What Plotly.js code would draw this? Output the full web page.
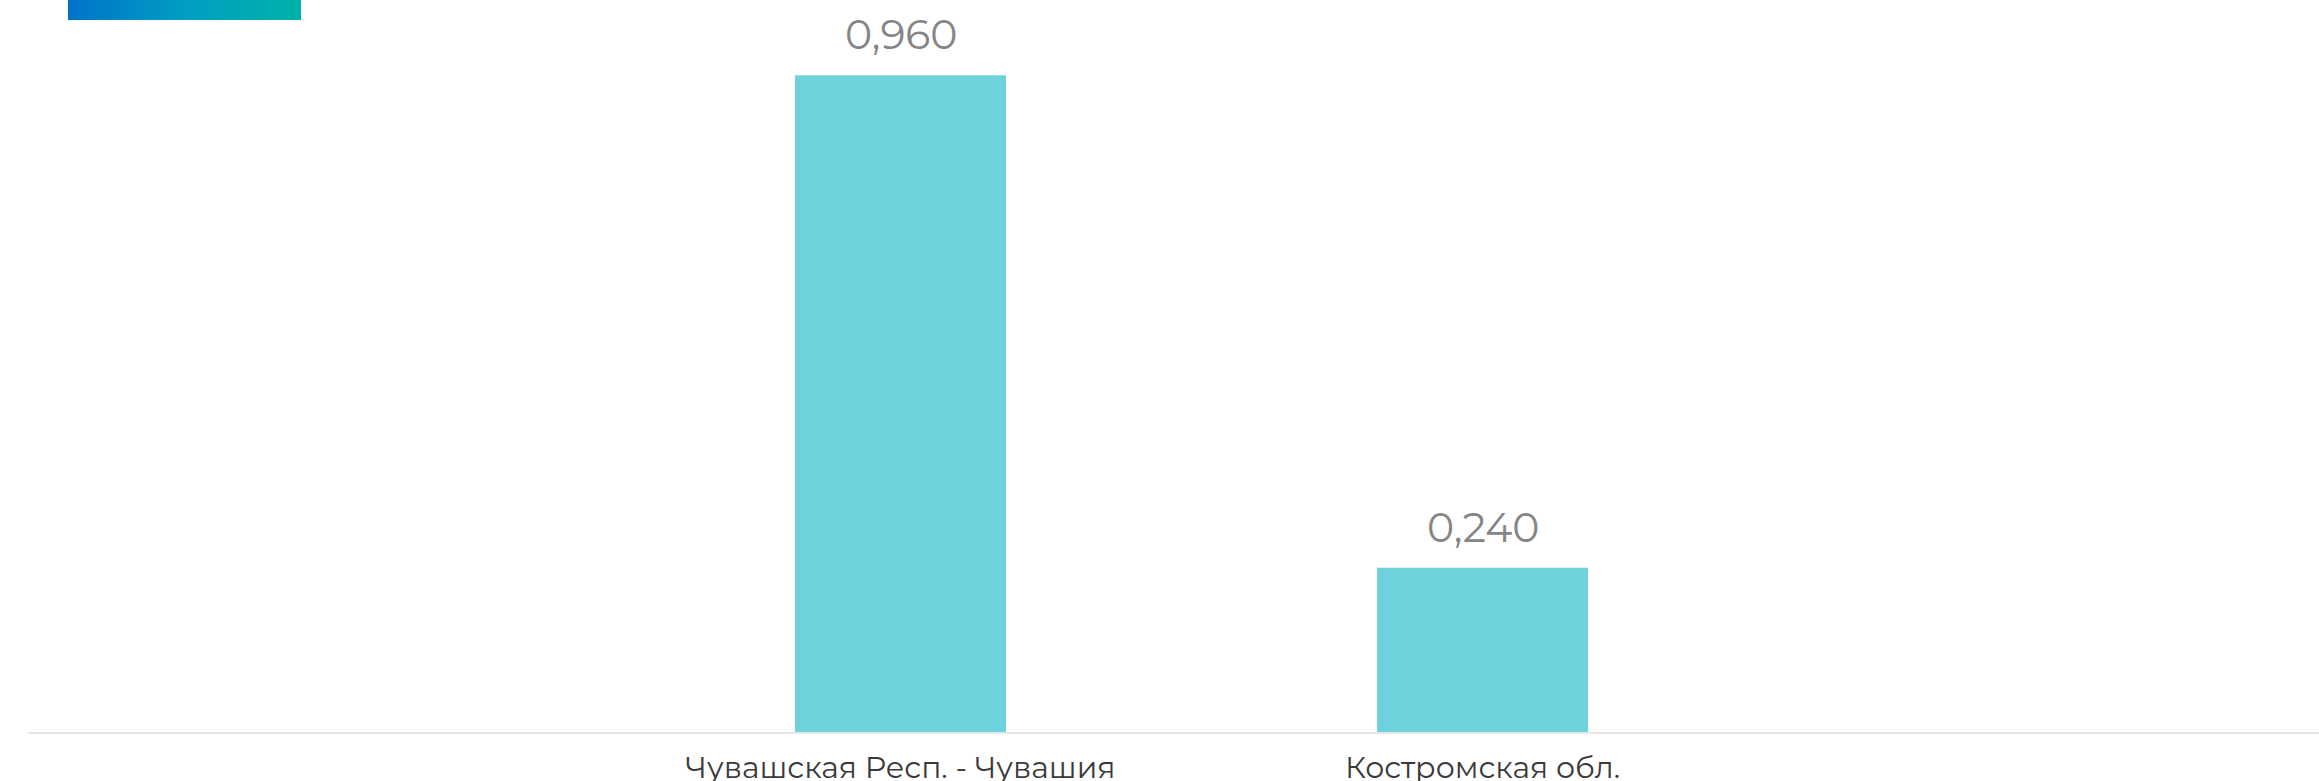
<!DOCTYPE html>
<html>
<head>
<meta charset="utf-8">
<script src="https://cdn.plot.ly/plotly-3.0.1.min.js"></script>
<style>html,body{margin:0;padding:0;background:#fff;}#chart{width:2319px;height:781px;}</style>
</head>
<body>
<div id="chart"></div>
<script>
const categories = ["Чувашская Респ. - Чувашия", "Костромская обл."];
const values = [0.960, 0.240];
const valueLabels = values.map(v => v.toFixed(3).replace('.', ','));

const barColor = "#6DD2DC";
const fontFamily = "Montserrat, 'Open Sans', 'DejaVu Sans', sans-serif";

const gradientSvg = '<svg xmlns="http://www.w3.org/2000/svg" width="233" height="20" preserveAspectRatio="none">' +
  '<defs><linearGradient id="g" x1="0" y1="0" x2="1" y2="0">' +
  '<stop offset="0" stop-color="#0073C8"/><stop offset="0.5" stop-color="#009EC3"/><stop offset="1" stop-color="#00B2A8"/>' +
  '</linearGradient></defs><rect width="233" height="20" fill="url(#g)"/></svg>';
const gradientUri = 'data:image/svg+xml;base64,' + btoa(gradientSvg);

const trace = {
  type: 'bar',
  x: categories,
  y: values,
  width: 0.3625,
  marker: {color: barColor},
  hoverinfo: 'none'
};

const annotations = categories.map((c, i) => ({
  x: c, y: values[i], xref: 'x', yref: 'y',
  text: valueLabels[i], showarrow: false,
  yanchor: 'bottom', yshift: 14,
  font: {family: fontFamily, size: 41, color: '#858585'}
}));

const layout = {
  width: 2319, height: 781,
  margin: {l: 28, r: 0, t: 0, b: 49, pad: 0},
  paper_bgcolor: '#ffffff', plot_bgcolor: '#ffffff',
  showlegend: false,
  xaxis: {
    type: 'category',
    range: [-1.499, 2.437],
    showline: true, linecolor: '#E6E6E6', linewidth: 2,
    showgrid: false, zeroline: false, ticks: '',
    ticklabelstandoff: 8,
    tickfont: {family: fontFamily, size: 30, color: '#3A3A3A'}
  },
  yaxis: {
    range: [0, 1.0698],
    showgrid: false, zeroline: false, showline: false,
    showticklabels: false, ticks: ''
  },
  annotations: annotations,
  images: [{
    source: gradientUri, xref: 'paper', yref: 'paper',
    x: (68 - 28) / 2291, y: 1, sizex: 233 / 2291, sizey: 20 / 732,
    xanchor: 'left', yanchor: 'top', sizing: 'stretch', layer: 'above'
  }]
};

Plotly.newPlot('chart', [trace], layout, {displayModeBar: false, staticPlot: true});
</script>
</body>
</html>
